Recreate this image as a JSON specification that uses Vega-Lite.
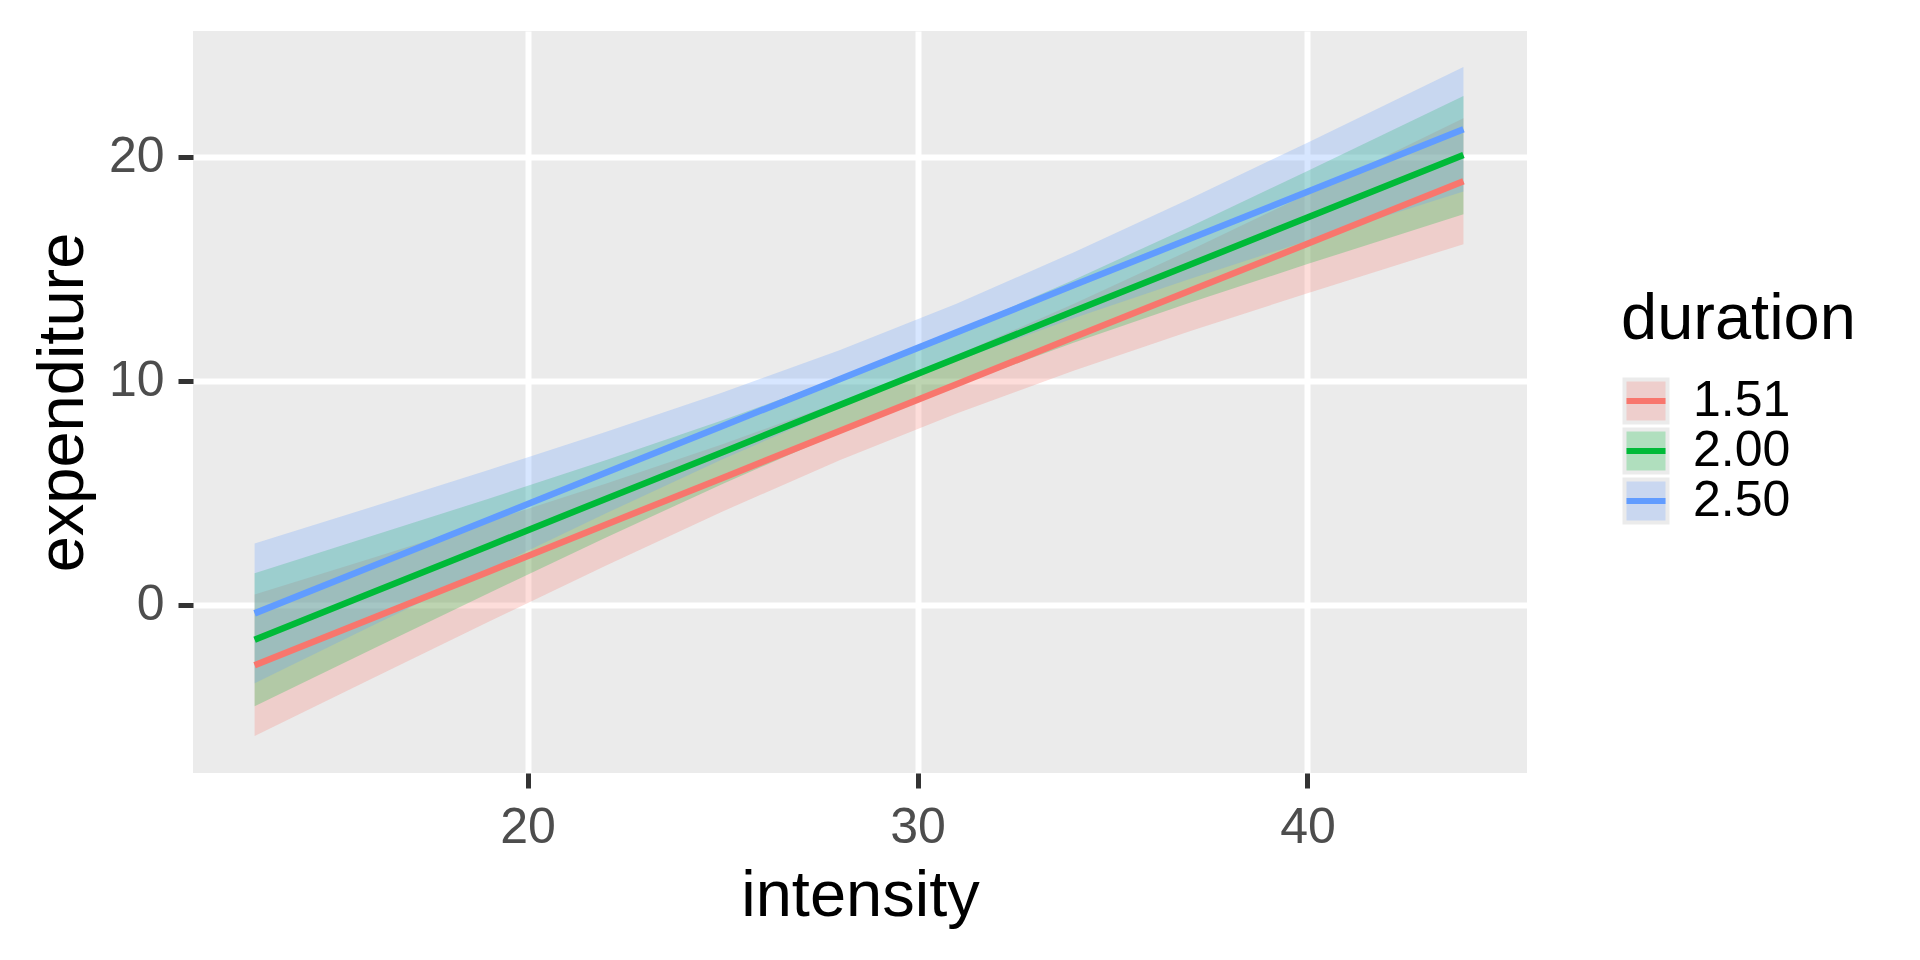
{
  "$schema": "https://vega.github.io/schema/vega-lite/v6.json",
  "width": 1334,
  "height": 742,
  "autosize": {"type": "none"},
  "padding": {"left": 193, "top": 31, "right": 393, "bottom": 187},
  "background": "white",
  "data": {
    "values": [
      {"intensity": 13, "duration": "1.51", "fit": -2.71, "lwr": -5.87, "upr": 0.45},
      {"intensity": 16, "duration": "1.51", "fit": -0.62, "lwr": -3.31, "upr": 2.07},
      {"intensity": 19, "duration": "1.51", "fit": 1.47, "lwr": -0.77, "upr": 3.71},
      {"intensity": 22, "duration": "1.51", "fit": 3.57, "lwr": 1.74, "upr": 5.40},
      {"intensity": 25, "duration": "1.51", "fit": 5.66, "lwr": 4.16, "upr": 7.16},
      {"intensity": 28, "duration": "1.51", "fit": 7.75, "lwr": 6.45, "upr": 9.05},
      {"intensity": 31, "duration": "1.51", "fit": 9.84, "lwr": 8.54, "upr": 11.14},
      {"intensity": 34, "duration": "1.51", "fit": 11.94, "lwr": 10.45, "upr": 13.43},
      {"intensity": 37, "duration": "1.51", "fit": 14.03, "lwr": 12.22, "upr": 15.84},
      {"intensity": 40, "duration": "1.51", "fit": 16.12, "lwr": 13.91, "upr": 18.33},
      {"intensity": 44, "duration": "1.51", "fit": 18.91, "lwr": 16.10, "upr": 21.72},
      {"intensity": 13, "duration": "2.00", "fit": -1.57, "lwr": -4.54, "upr": 1.40},
      {"intensity": 16, "duration": "2.00", "fit": 0.53, "lwr": -2.00, "upr": 3.06},
      {"intensity": 19, "duration": "2.00", "fit": 2.62, "lwr": 0.51, "upr": 4.73},
      {"intensity": 22, "duration": "2.00", "fit": 4.72, "lwr": 2.99, "upr": 6.45},
      {"intensity": 25, "duration": "2.00", "fit": 6.81, "lwr": 5.39, "upr": 8.23},
      {"intensity": 28, "duration": "2.00", "fit": 8.91, "lwr": 7.68, "upr": 10.14},
      {"intensity": 31, "duration": "2.00", "fit": 11.00, "lwr": 9.78, "upr": 12.22},
      {"intensity": 34, "duration": "2.00", "fit": 13.10, "lwr": 11.70, "upr": 14.50},
      {"intensity": 37, "duration": "2.00", "fit": 15.19, "lwr": 13.49, "upr": 16.89},
      {"intensity": 40, "duration": "2.00", "fit": 17.29, "lwr": 15.21, "upr": 19.37},
      {"intensity": 44, "duration": "2.00", "fit": 20.08, "lwr": 17.44, "upr": 22.72},
      {"intensity": 13, "duration": "2.50", "fit": -0.39, "lwr": -3.51, "upr": 2.73},
      {"intensity": 16, "duration": "2.50", "fit": 1.70, "lwr": -0.96, "upr": 4.36},
      {"intensity": 19, "duration": "2.50", "fit": 3.79, "lwr": 1.57, "upr": 6.01},
      {"intensity": 22, "duration": "2.50", "fit": 5.89, "lwr": 4.07, "upr": 7.71},
      {"intensity": 25, "duration": "2.50", "fit": 7.98, "lwr": 6.49, "upr": 9.47},
      {"intensity": 28, "duration": "2.50", "fit": 10.07, "lwr": 8.78, "upr": 11.36},
      {"intensity": 31, "duration": "2.50", "fit": 12.16, "lwr": 10.88, "upr": 13.44},
      {"intensity": 34, "duration": "2.50", "fit": 14.26, "lwr": 12.79, "upr": 15.73},
      {"intensity": 37, "duration": "2.50", "fit": 16.35, "lwr": 14.56, "upr": 18.14},
      {"intensity": 40, "duration": "2.50", "fit": 18.44, "lwr": 16.25, "upr": 20.63},
      {"intensity": 44, "duration": "2.50", "fit": 21.23, "lwr": 18.45, "upr": 24.01}
    ]
  },
  "encoding": {
    "x": {
      "field": "intensity",
      "type": "quantitative",
      "title": "intensity",
      "scale": {"domain": [11.42, 45.63], "nice": false, "zero": false},
      "axis": {"values": [20, 30, 40], "titleY": 142, "titleBaseline": "alphabetic", "labelFlush": false}
    },
    "y": {
      "field": "lwr",
      "type": "quantitative",
      "title": "expenditure",
      "scale": {"domain": [-7.52, 25.62], "nice": false, "zero": false},
      "axis": {"values": [0, 10, 20], "titleX": -111, "titleY": 371, "titleBaseline": "alphabetic"}
    }
  },
  "layer": [
    {
      "mark": {"type": "area", "opacity": 0},
      "encoding": {
        "y2": {"field": "upr"},
        "color": {
          "field": "duration",
          "type": "nominal",
          "scale": {"range": ["#EECECC", "#B0DFBE", "#C9D7F0"]},
          "legend": {
            "orient": "none",
            "legendX": 1428,
            "legendY": 257,
            "title": "duration",
            "titlePadding": 24,
            "titleLimit": 600,
            "clipHeight": 48,
            "symbolType": "square",
            "symbolSize": 1849,
            "symbolStrokeWidth": 4,
            "symbolStrokeColor": "#EBEBEB",
            "symbolOpacity": 1,
            "labelOffset": 22
          }
        }
      }
    },
    {
      "mark": {"type": "area", "opacity": 0.25},
      "encoding": {
        "y2": {"field": "upr"},
        "fill": {
          "field": "duration",
          "type": "nominal",
          "scale": {"range": ["#F8766D", "#00BA38", "#619CFF"]},
          "legend": null
        }
      }
    },
    {
      "mark": {"type": "line", "strokeWidth": 6.5},
      "encoding": {
        "y": {"field": "fit", "type": "quantitative", "title": "expenditure"},
        "stroke": {
          "field": "duration",
          "type": "nominal",
          "scale": {"domain": ["1.51", "2.00", "2.50"], "range": ["#F8766D", "#00BA38", "#619CFF"]},
          "legend": {
            "orient": "none",
            "legendX": 1428,
            "legendY": 346,
            "title": null,
            "labelExpr": "''",
            "clipHeight": 48,
            "symbolType": "stroke",
            "symbolSize": 1521,
            "symbolStrokeWidth": 6,
            "labelOffset": 0
          }
        }
      }
    }
  ],
  "config": {
    "view": {"fill": "#EBEBEB", "stroke": null},
    "axis": {
      "domain": false,
      "grid": true,
      "gridColor": "#FFFFFF",
      "gridWidth": 6,
      "tickColor": "#333333",
      "tickWidth": 5,
      "tickSize": 15,
      "labelFont": "Liberation Sans",
      "labelFontSize": 50,
      "labelColor": "#4D4D4D",
      "labelPadding": 14,
      "titleFont": "Liberation Sans",
      "titleFontSize": 65,
      "titleFontWeight": "normal",
      "titleColor": "#000000"
    },
    "legend": {
      "padding": 0,
      "rowPadding": 0,
      "titleFont": "Liberation Sans",
      "titleFontSize": 65,
      "titleFontWeight": "normal",
      "titleColor": "#000000",
      "labelFont": "Liberation Sans",
      "labelFontSize": 50,
      "labelColor": "#000000"
    }
  }
}
